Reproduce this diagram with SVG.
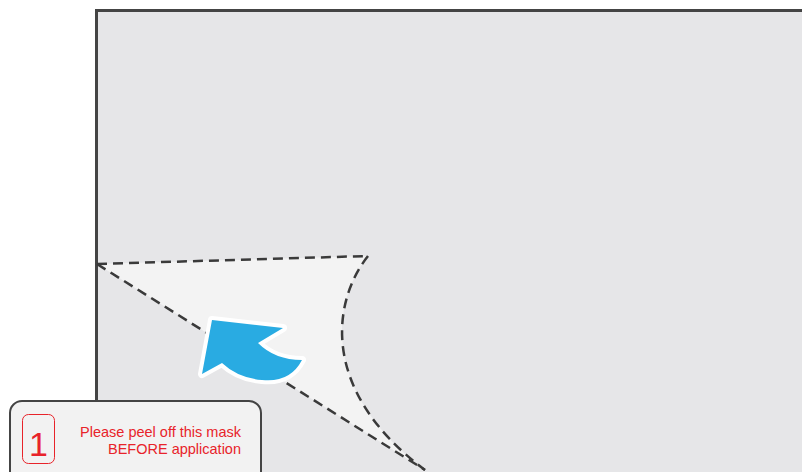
<svg xmlns="http://www.w3.org/2000/svg" width="802" height="472" viewBox="0 0 802 472">
<style>
.dash{fill:none;stroke:#3a3a3a;stroke-width:2.5;stroke-dasharray:10 6}
.lbl{font-family:"Liberation Sans",Arial,sans-serif;fill:#e8232a}
</style>
<rect width="802" height="472" fill="#ffffff"/>
<g id="panel">
<rect x="96.5" y="10.5" width="720" height="480" fill="#e6e6e8" stroke="#444" stroke-width="3"/>
</g>
<g id="peel">
<path d="M97,264 L368,256 C333,300 318,390 425,470 Z" fill="#f3f3f3"/>
</g>
<g id="connectors">
<path class="dash" d="M97,264 L368,256"/>
<path class="dash" d="M368,256 C333,300 318,390 425,470"/>
<path class="dash" d="M97,264 L425,470"/>
</g>
<g id="arrow">
<path d="M212,320 L283,328 L258,343 Q275,360 302,360 Q290,383 262,380 Q238,378 222,363 L202,374 Z" fill="#29abe2" stroke="#fff" stroke-width="8" stroke-linejoin="round" paint-order="stroke"/>
</g>
<g id="label">
<rect x="10" y="401" width="251" height="90" rx="12" fill="#f2f2f2" stroke="#444" stroke-width="2"/>
<rect x="22.5" y="414.5" width="32" height="49" rx="6" fill="none" stroke="#e8232a" stroke-width="1"/>
<text class="lbl" x="38.5" y="456" font-size="34" text-anchor="middle">1</text>
<text class="lbl" x="241" y="437" font-size="14.5" text-anchor="end">Please peel off this mask</text>
<text class="lbl" x="241" y="454" font-size="14.5" text-anchor="end">BEFORE application</text>
</g>
</svg>
